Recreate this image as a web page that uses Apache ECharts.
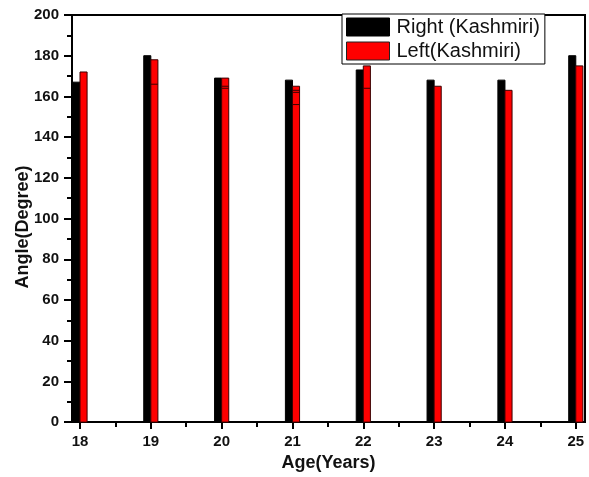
<!DOCTYPE html>
<html>
<head>
<meta charset="utf-8">
<script src="https://cdn.jsdelivr.net/npm/echarts@6/dist/echarts.min.js"></script>
<style>
  html, body { margin: 0; padding: 0; background: #fff; }
  #chart { width: 589px; height: 477px; }
</style>
</head>
<body>
<div id="chart"></div>
<script>
// Elbow carrying angle by age, right and left arm
const ages = [18, 19, 20, 21, 22, 23, 24, 25];
const rightKashmiri = [167, 180, 169, 168, 173, 168, 168, 180];
const leftKashmiri = [172, 178, 169, 165, 175, 165, 163, 175];
// Lower overlapping readings visible as edges inside the left bars: [age, angle]
const leftInner = [[19, 166], [20, 165], [20, 164], [21, 163], [21, 162], [21, 156], [22, 164]];
const yTicks = [0, 20, 40, 60, 80, 100, 120, 140, 160, 180, 200];
const halfTicks = [18.5, 19.5, 20.5, 21.5, 22.5, 23.5, 24.5];

const BAR_W = 0.1;   // bar width in axis units
const FONT = 'Liberation Sans, Arial, sans-serif';

function barRenderer(offset, fill, stroke) {
  return function (params, api) {
    const x = api.value(0), y = api.value(1);
    const topLeft = api.coord([x + offset, y]);
    const size = api.size([BAR_W, y]);
    return {
      type: 'rect',
      shape: { x: topLeft[0], y: topLeft[1], width: size[0], height: size[1] },
      style: { fill: fill, stroke: stroke, lineWidth: 1 }
    };
  };
}

const chart = echarts.init(document.getElementById('chart'), null, { renderer: 'canvas' });

chart.setOption({
  animation: false,
  backgroundColor: '#fff',
  grid: {
    left: 72, right: 4, top: 15, bottom: 51,
    show: true, borderColor: '#000', borderWidth: 2, backgroundColor: 'transparent'
  },
  legend: {
    orient: 'vertical',
    left: 342, top: 14,
    padding: [3, 5, 3, 4],
    itemGap: 4,
    itemWidth: 43, itemHeight: 18,
    backgroundColor: '#fff',
    borderColor: '#000', borderWidth: 1, borderRadius: 0,
    textStyle: { fontFamily: FONT, fontSize: 20, color: '#111', lineHeight: 20, padding: [0, 0, 0, 2] },
    data: [
      { name: 'Right (Kashmiri)', icon: 'rect', itemStyle: { color: '#000', borderColor: '#000', borderWidth: 1 } },
      { name: 'Left(Kashmiri)', icon: 'rect', itemStyle: { color: '#ff0000', borderColor: '#222', borderWidth: 1 } }
    ]
  },
  xAxis: [
    {
      type: 'value',
      min: 17.887, max: 25.13,
      position: 'bottom',
      name: 'Age(Years)',
      nameLocation: 'middle',
      nameGap: 30,
      nameTextStyle: { fontFamily: FONT, fontSize: 18, fontWeight: 'bold', color: '#111' },
      axisLine: { show: true, onZero: false, lineStyle: { color: '#000', width: 2 } },
      axisTick: { show: true, inside: false, length: 7, lineStyle: { color: '#000', width: 2 }, customValues: ages },
      axisLabel: {
        show: true, margin: 12, customValues: ages,
        fontFamily: FONT, fontSize: 15, fontWeight: 'bold', color: '#111',
        formatter: v => String(v)
      },
      splitLine: { show: false }
    },
    {
      // minor ticks at the half years
      type: 'value',
      min: 17.887, max: 25.13,
      position: 'bottom',
      axisLine: { show: false },
      axisTick: { show: true, inside: false, length: 5, lineStyle: { color: '#000', width: 2 }, customValues: halfTicks },
      axisLabel: { show: false },
      splitLine: { show: false }
    }
  ],
  yAxis: {
    type: 'value',
    min: 0, max: 200, interval: 20,
    axisLine: { show: true, lineStyle: { color: '#000', width: 2 } },
    axisTick: { show: true, inside: false, length: 8, lineStyle: { color: '#000', width: 2 } },
    minorTick: { show: true, splitNumber: 2, length: 5, lineStyle: { color: '#000', width: 2 } },
    axisLabel: {
      margin: 13, fontFamily: FONT, fontSize: 15, fontWeight: 'bold', color: '#111',
      customValues: yTicks
    },
    splitLine: { show: false },
    minorSplitLine: { show: false }
  },
  graphic: [
    {
      type: 'text',
      x: 14, y: 227,
      rotation: Math.PI / 2,
      style: {
        text: 'Angle(Degree)',
        font: 'bold 18px ' + FONT,
        fill: '#111',
        textAlign: 'center',
        textVerticalAlign: 'top'
      }
    }
  ],
  series: [
    {
      name: 'Right (Kashmiri)',
      type: 'custom',
      xAxisIndex: 0,
      itemStyle: { color: '#000' },
      renderItem: barRenderer(-BAR_W, '#000', '#000'),
      encode: { x: 0, y: 1 },
      data: ages.map((a, i) => [a, rightKashmiri[i]]),
      z: 2
    },
    {
      name: 'Left(Kashmiri)',
      type: 'custom',
      xAxisIndex: 0,
      itemStyle: { color: '#ff0000' },
      renderItem: barRenderer(0, '#ff0000', '#3a0000'),
      encode: { x: 0, y: 1 },
      data: ages.map((a, i) => [a, leftKashmiri[i]]),
      z: 2
    },
    {
      name: 'inner',
      type: 'custom',
      xAxisIndex: 0,
      renderItem: function (params, api) {
        const x = api.value(0), y = api.value(1);
        const p0 = api.coord([x, y]);
        const p1 = api.coord([x + BAR_W, y]);
        return {
          type: 'line',
          shape: { x1: p0[0], y1: p0[1], x2: p1[0], y2: p1[1] },
          style: { stroke: '#3a0000', lineWidth: 1 }
        };
      },
      encode: { x: 0, y: 1 },
      data: leftInner,
      z: 3
    }
  ]
});
</script>
</body>
</html>
